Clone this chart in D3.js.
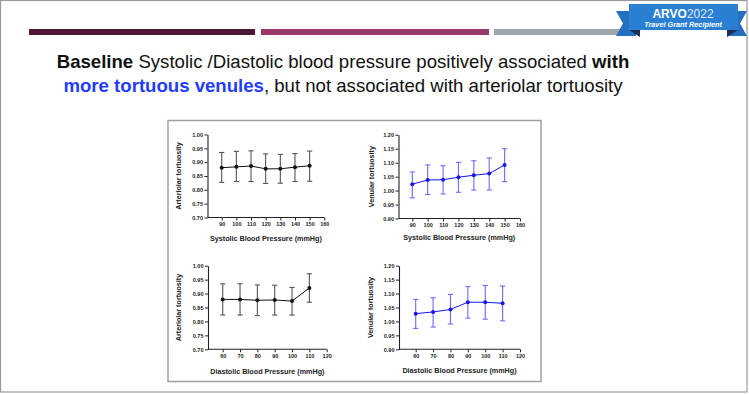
<!DOCTYPE html>
<meta charset="utf-8">
<style>
body { margin: 0; background: #fff; }
svg { display: block; font-family: "Liberation Sans", Arial, sans-serif; }
.tick text { font-size: 5.5px; font-weight: bold; fill: #222; }
.tick line { stroke: #222; }
</style>
<svg width="749" height="395"></svg>
<script src="https://cdn.jsdelivr.net/npm/d3@7"></script>
<script>

// data
var sysX = [90, 100, 110, 120, 130, 140, 150];
var sysTicks = [90, 100, 110, 120, 130, 140, 150, 160];
var diaX = [60, 70, 80, 90, 100, 110];
var diaTicks = [60, 70, 80, 90, 100, 110, 120];
var artTicks = [0.70, 0.75, 0.80, 0.85, 0.90, 0.95, 1.00];
var venTicks = [0.90, 0.95, 1.00, 1.05, 1.10, 1.15, 1.20];

var sysArtMean = [0.880, 0.883, 0.886, 0.876, 0.876, 0.882, 0.887];
var sysArtLo   = [0.827, 0.830, 0.830, 0.823, 0.824, 0.830, 0.831];
var sysArtHi   = [0.935, 0.939, 0.941, 0.930, 0.928, 0.931, 0.940];

var sysVenMean = [1.023, 1.038, 1.039, 1.048, 1.055, 1.061, 1.092];
var sysVenLo   = [0.974, 0.986, 0.988, 0.994, 1.002, 1.002, 1.032];
var sysVenHi   = [1.067, 1.092, 1.089, 1.101, 1.107, 1.117, 1.150];

var diaArtMean = [0.879, 0.879, 0.876, 0.877, 0.873, 0.920];
var diaArtLo   = [0.823, 0.823, 0.821, 0.823, 0.823, 0.869];
var diaArtHi   = [0.935, 0.935, 0.931, 0.930, 0.922, 0.971];

var diaVenMean = [1.028, 1.034, 1.043, 1.069, 1.069, 1.065];
var diaVenLo   = [0.975, 0.980, 0.991, 1.012, 1.008, 1.002];
var diaVenHi   = [1.079, 1.085, 1.097, 1.125, 1.129, 1.127];

var svg = d3.select("svg");

// slide border
svg.append("rect").attr("x", 0.5).attr("y", 0.5).attr("width", 746.5).attr("height", 391.5)
  .attr("fill", "none").attr("stroke", "#9a9a9a").attr("stroke-width", 1.2);

// header strips
svg.append("rect").attr("x", 29).attr("y", 29).attr("width", 226).attr("height", 6).attr("fill", "#4e1738");
svg.append("rect").attr("x", 261).attr("y", 29).attr("width", 228).attr("height", 6).attr("fill", "#993a6c");
svg.append("rect").attr("x", 494).attr("y", 29).attr("width", 130).attr("height", 6).attr("fill", "#a2a6ab");

// badge
svg.append("polygon").attr("points", "616,11 636,11 636,36 616,36 623,23.5").attr("fill", "#2470c0");
svg.append("polygon").attr("points", "727,11 747,11 740,23.5 747,36 727,36").attr("fill", "#2470c0");
svg.append("polygon").attr("points", "629,30 640,30 640,37").attr("fill", "#1a2f55");
svg.append("polygon").attr("points", "738,30 727,30 727,37").attr("fill", "#1a2f55");
svg.append("rect").attr("x", 629).attr("y", 4).attr("width", 109).attr("height", 26).attr("fill", "#2b7fd3");
svg.append("text").attr("x", 683).attr("y", 17.5).attr("text-anchor", "middle")
  .attr("font-size", 12).attr("fill", "#fff").attr("font-weight", "bold")
  .text("ARVO").append("tspan").attr("font-weight", "normal").attr("fill", "#dfeaff").text("2022");
svg.append("text").attr("x", 683).attr("y", 27).attr("text-anchor", "middle")
  .attr("font-size", 7.3).attr("fill", "#fff").attr("font-weight", "bold").attr("font-style", "italic")
  .text("Travel Grant Recipient");

// headline
var h1 = svg.append("text").attr("x", 343).attr("y", 68).attr("text-anchor", "middle")
  .attr("font-size", 18.6).attr("fill", "#111");
h1.append("tspan").attr("font-weight", "bold").text("Baseline");
h1.append("tspan").text(" Systolic /Diastolic blood pressure positively associated ");
h1.append("tspan").attr("font-weight", "bold").text("with");
var h2 = svg.append("text").attr("x", 343).attr("y", 92).attr("text-anchor", "middle")
  .attr("font-size", 18.6).attr("fill", "#111");
h2.append("tspan").attr("font-weight", "bold").attr("fill", "#1f3cff").text("more tortuous venules");
h2.append("tspan").text(", but not associated with arteriolar tortuosity");

// figure frame
svg.append("rect").attr("x", 168).attr("y", 120.5).attr("width", 373).attr("height", 261)
  .attr("fill", "#fff").attr("stroke", "#a0a0a0").attr("stroke-width", 1.5);

var panels = [
  { x: sysX, mean: sysArtMean, lo: sysArtLo, hi: sysArtHi, xt: sysTicks, yt: artTicks,
    axisX: 207.5, xr: [221.7, 324.3], yr: [217.5, 134.5], color: "#111", bar: "#555",
    xlab: "Systolic Blood Pressure (mmHg)", ylab: "Arteriolar tortuosity", labX: 178.5, titleY: 241 },
  { x: sysX, mean: sysVenMean, lo: sysVenLo, hi: sysVenHi, xt: sysTicks, yt: venTicks,
    axisX: 398.5, xr: [412.3, 520], yr: [218.5, 134.8], color: "#1414f0", bar: "#6b6bff",
    xlab: "Systolic Blood Pressure (mmHg)", ylab: "Venular tortuosity", labX: 371, titleY: 240 },
  { x: diaX, mean: diaArtMean, lo: diaArtLo, hi: diaArtHi, xt: diaTicks, yt: artTicks,
    axisX: 208, xr: [222.7, 326.7], yr: [349.3, 265.7], color: "#111", bar: "#555",
    xlab: "Diastolic Blood Pressure (mmHg)", ylab: "Arteriolar tortuosity", labX: 178.5, titleY: 374 },
  { x: diaX, mean: diaVenMean, lo: diaVenLo, hi: diaVenHi, xt: diaTicks, yt: venTicks,
    axisX: 399, xr: [415.7, 520], yr: [349.3, 265.7], color: "#1414f0", bar: "#6b6bff",
    xlab: "Diastolic Blood Pressure (mmHg)", ylab: "Venular tortuosity", labX: 370, titleY: 373 }
];

panels.forEach(function(p) {
  var x = d3.scaleLinear().domain([p.xt[0], p.xt[p.xt.length - 1]]).range(p.xr);
  var y = d3.scaleLinear().domain([p.yt[0], p.yt[p.yt.length - 1]]).range(p.yr);
  var g = svg.append("g");

  // y axis
  g.append("g").attr("transform", "translate(" + p.axisX + ",0)")
    .call(d3.axisLeft(y).tickValues(p.yt).tickFormat(d3.format(".2f")).tickSize(3).tickSizeOuter(0).tickPadding(1.5))
    .call(function(a) { a.select(".domain").attr("stroke", "#222").attr("stroke-width", 1.1); });

  // x axis
  var xa = g.append("g").attr("transform", "translate(0," + p.yr[0] + ")")
    .call(d3.axisBottom(x).tickValues(p.xt).tickSize(3).tickPadding(2));
  xa.select(".domain").remove();
  xa.append("line").attr("x1", p.axisX).attr("x2", p.xr[1]).attr("stroke", "#222").attr("stroke-width", 1.1);

  // axis titles
  g.append("text").attr("x", (p.axisX + p.xr[1]) / 2).attr("y", p.titleY).attr("text-anchor", "middle")
    .attr("font-size", 7.2).attr("font-weight", "bold").attr("fill", "#222").text(p.xlab);
  g.append("text").attr("transform", "translate(" + p.labX + "," + ((p.yr[0] + p.yr[1]) / 2) + ") rotate(-90)")
    .attr("text-anchor", "middle").attr("dy", "0.35em")
    .attr("font-size", 7.2).attr("font-weight", "bold").attr("fill", "#222").text(p.ylab);

  // error bars
  var idx = d3.range(p.x.length);
  var eb = g.append("g").attr("stroke", p.bar).attr("stroke-width", 1.1);
  idx.forEach(function(i) {
    var cx = x(p.x[i]);
    eb.append("line").attr("x1", cx).attr("x2", cx).attr("y1", y(p.lo[i])).attr("y2", y(p.hi[i]));
    eb.append("line").attr("x1", cx - 2.6).attr("x2", cx + 2.6).attr("y1", y(p.lo[i])).attr("y2", y(p.lo[i]));
    eb.append("line").attr("x1", cx - 2.6).attr("x2", cx + 2.6).attr("y1", y(p.hi[i])).attr("y2", y(p.hi[i]));
  });

  // mean line and points
  g.append("path").datum(idx)
    .attr("fill", "none").attr("stroke", p.color).attr("stroke-width", 1)
    .attr("d", d3.line().x(function(i) { return x(p.x[i]); }).y(function(i) { return y(p.mean[i]); }));
  g.selectAll("circle.pt").data(idx).enter().append("circle")
    .attr("cx", function(i) { return x(p.x[i]); })
    .attr("cy", function(i) { return y(p.mean[i]); })
    .attr("r", 2).attr("fill", p.color);
});

</script>
